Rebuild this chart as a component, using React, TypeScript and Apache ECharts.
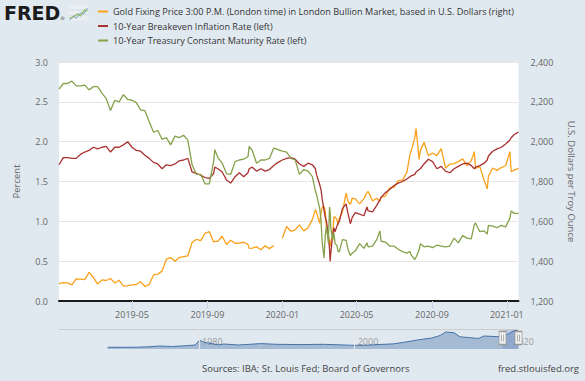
import React, { useEffect, useRef } from "react";
import * as echarts from "echarts";

// ---------- data ----------
const dates: string[] = [
  "2019-01-02","2019-01-09","2019-01-16","2019-01-23","2019-01-30","2019-02-06","2019-02-13","2019-02-20","2019-02-27",
  "2019-03-06","2019-03-13","2019-03-20","2019-03-27","2019-04-03","2019-04-10","2019-04-17","2019-04-24","2019-05-01",
  "2019-05-08","2019-05-15","2019-05-22","2019-05-29","2019-06-05","2019-06-12","2019-06-19","2019-06-26","2019-07-03",
  "2019-07-10","2019-07-17","2019-07-24","2019-07-31","2019-08-07","2019-08-14","2019-08-21","2019-08-28","2019-09-04",
  "2019-09-11","2019-09-13","2019-09-18","2019-09-25","2019-10-02","2019-10-09","2019-10-16","2019-10-23","2019-10-30",
  "2019-11-06","2019-11-08","2019-11-13","2019-11-20","2019-11-27","2019-12-04","2019-12-11","2019-12-18","2019-12-25",
  "2020-01-01","2020-01-08","2020-01-15","2020-01-22","2020-01-29","2020-02-05","2020-02-12","2020-02-19","2020-02-24",
  "2020-02-26","2020-03-02","2020-03-04","2020-03-06","2020-03-09","2020-03-11","2020-03-13","2020-03-16","2020-03-18",
  "2020-03-19","2020-03-20","2020-03-23","2020-03-25","2020-03-27","2020-03-30","2020-04-01","2020-04-03","2020-04-08",
  "2020-04-14","2020-04-17","2020-04-21","2020-04-24","2020-04-29","2020-05-06","2020-05-13","2020-05-18","2020-05-20",
  "2020-05-27","2020-06-03","2020-06-08","2020-06-10","2020-06-17","2020-06-24","2020-07-01","2020-07-08","2020-07-15",
  "2020-07-22","2020-07-27","2020-07-29","2020-08-04","2020-08-06","2020-08-11","2020-08-13","2020-08-19","2020-08-26",
  "2020-09-02","2020-09-09","2020-09-16","2020-09-23","2020-09-30","2020-10-07","2020-10-14","2020-10-21","2020-10-28",
  "2020-11-04","2020-11-09","2020-11-11","2020-11-18","2020-11-25","2020-11-30","2020-12-02","2020-12-09","2020-12-16",
  "2020-12-23","2020-12-30","2021-01-06","2021-01-08","2021-01-13","2021-01-20",
];

const goldPrice: (number | null)[] = [
  1287, 1292, 1291, 1281, 1311, 1310, 1307, 1344, 1319,
  1285, 1306, 1303, 1313, 1290, 1304, 1275, 1277, 1281,
  1283, 1297, 1273, 1282, 1331, 1335, 1350, 1410, 1418,
  1400, 1418, 1423, 1427, 1494, 1510, 1503, 1540, 1549,
  1496, 1499, 1500, 1525, 1484, 1505, 1490, 1491, 1495,
  1484, 1464, 1465, 1472, 1457, 1477, 1463, 1478, null,
  1515, 1574, 1550, 1557, 1582, 1552, 1568, 1610, 1659,
  1643, 1590, 1640, 1672, 1675, 1652, 1563, 1530, 1487,
  1474, 1500, 1525, 1620, 1623, 1607, 1582, 1617, 1647,
  1742, 1700, 1686, 1716, 1713, 1688, 1714, 1745, 1750,
  1703, 1716, 1700, 1721, 1727, 1768, 1770, 1804, 1807,
  1846, 1934, 1954, 2019, 2067, 1911, 1955, 1997, 1930,
  1943, 1930, 1965, 1868, 1887, 1890, 1900, 1914, 1880,
  1905, 1950, 1866, 1874, 1807, 1763, 1826, 1868, 1856,
  1870, 1879, 1950, 1850, 1857, 1866,
];

const breakevenRate: number[] = [
  1.71, 1.80, 1.80, 1.79, 1.79, 1.84, 1.87, 1.89, 1.93,
  1.91, 1.93, 1.94, 1.87, 1.93, 1.93, 1.96, 2.00, 1.93,
  1.89, 1.88, 1.83, 1.79, 1.74, 1.72, 1.66, 1.71, 1.70,
  1.72, 1.76, 1.77, 1.79, 1.62, 1.60, 1.58, 1.55, 1.54,
  1.60, 1.68, 1.66, 1.62, 1.52, 1.48, 1.56, 1.61, 1.56,
  1.61, 1.66, 1.68, 1.63, 1.66, 1.63, 1.65, 1.70, 1.74,
  1.77, 1.79, 1.80, 1.78, 1.72, 1.69, 1.73, 1.71, 1.66,
  1.58, 1.46, 1.40, 1.28, 1.14, 1.05, 1.00, 0.83, 0.65,
  0.50, 0.60, 0.82, 0.92, 0.87, 0.94, 0.98, 1.00, 1.16,
  1.22, 1.10, 0.97, 1.05, 1.11, 1.09, 1.07, 1.18, 1.13,
  1.12, 1.20, 1.27, 1.30, 1.36, 1.40, 1.45, 1.48, 1.50,
  1.53, 1.56, 1.57, 1.59, 1.62, 1.65, 1.66, 1.72, 1.78,
  1.75, 1.66, 1.69, 1.63, 1.61, 1.66, 1.69, 1.72, 1.73,
  1.70, 1.66, 1.68, 1.70, 1.73, 1.77, 1.82, 1.88, 1.91,
  1.93, 1.97, 2.02, 2.05, 2.09, 2.12,
];

const treasuryRate: number[] = [
  2.66, 2.73, 2.73, 2.76, 2.70, 2.70, 2.71, 2.65, 2.69,
  2.69, 2.61, 2.54, 2.39, 2.52, 2.50, 2.59, 2.53, 2.52,
  2.49, 2.40, 2.39, 2.25, 2.12, 2.14, 2.03, 2.05, 1.96,
  2.07, 2.05, 2.08, 2.02, 1.71, 1.59, 1.59, 1.47, 1.47,
  1.75, 1.90, 1.80, 1.73, 1.60, 1.59, 1.75, 1.77, 1.78,
  1.81, 1.94, 1.89, 1.73, 1.77, 1.77, 1.79, 1.92, 1.90,
  1.88, 1.87, 1.79, 1.77, 1.59, 1.65, 1.63, 1.56, 1.38,
  1.33, 1.16, 1.02, 0.74, 0.54, 0.82, 0.94, 0.73, 1.18,
  1.12, 0.92, 0.76, 0.86, 0.72, 0.70, 0.62, 0.62, 0.77,
  0.76, 0.65, 0.57, 0.60, 0.63, 0.72, 0.66, 0.73, 0.68,
  0.69, 0.77, 0.88, 0.75, 0.74, 0.69, 0.69, 0.65, 0.62,
  0.60, 0.62, 0.58, 0.52, 0.55, 0.64, 0.72, 0.68, 0.69,
  0.67, 0.70, 0.69, 0.68, 0.69, 0.79, 0.73, 0.82, 0.79,
  0.78, 0.96, 0.98, 0.87, 0.88, 0.84, 0.95, 0.94, 0.92,
  0.95, 0.93, 1.04, 1.13, 1.10, 1.10,
];

const seriesNames = [
  "Gold Fixing Price 3:00 P.M. (London time) in London Bullion Market, based in U.S. Dollars (right)",
  "10-Year Breakeven Inflation Rate (left)",
  "10-Year Treasury Constant Maturity Rate (left)",
];

const xRange = ["2019-01-02", "2021-01-20"];
const xTickDates = ["2019-05-01", "2019-09-01", "2020-01-01", "2020-05-01", "2020-09-01", "2021-01-01"];

// navigator (full history of the gold series, decimal years)
const navYears: number[] = [
  1968.25, 1970, 1972, 1973.5, 1974.9, 1976.6, 1978, 1979.5, 1980.05, 1980.7,
  1982.5, 1983.2, 1985.1, 1987.9, 1990, 1993, 1996, 1999.6, 2001.3, 2003,
  2005, 2006.4, 2008.2, 2009.9, 2011.0, 2011.7, 2012.8, 2013.5, 2015.9, 2016.6,
  2018.7, 2019.6, 2020.6, 2021.05,
];
const navGold: number[] = [
  39, 36, 48, 95, 180, 130, 200, 300, 850, 600,
  320, 410, 300, 460, 380, 350, 380, 270, 260, 350,
  430, 620, 900, 1100, 1400, 1800, 1700, 1250, 1050, 1330,
  1250, 1500, 2000, 1850,
];
const navRange = [1962, 2021.05];
const navSelection = [2019.0, 2021.05];
const navLabelYears = [1980, 2000, 2020];

const leftAxis = { min: 0, max: 3, interval: 0.5 };
const rightAxis = { min: 1200, max: 2400, interval: 200 };

// ---------- chart ----------
const FONT = '"Open Sans", "DejaVu Sans", sans-serif';
const COLORS = ["#f9a11b", "#a8322f", "#85a24a"];
const ts = (s: string) => new Date(s + "T00:00:00").getTime();

export default function App() {
  const ref = useRef<HTMLDivElement>(null);

  useEffect(() => {
    document.body.style.margin = "0";
    document.body.style.background = "#e1e9f0";
    const chart = echarts.init(ref.current!, undefined, { renderer: "svg" });

    const mk = (vals: (number | null)[]) => dates.map((d, i) => [ts(d), vals[i]]);
    const tickTs = xTickDates.map(ts);

    const option: any = {
      animation: false,
      backgroundColor: "#e1e9f0",
      textStyle: { fontFamily: FONT },
      color: COLORS,
      legend: {
        orient: "vertical",
        left: 98,
        top: 6,
        padding: 0,
        itemWidth: 10,
        itemHeight: 2,
        itemGap: 3.5,
        icon: "rect",
        selectedMode: false,
        textStyle: { fontSize: 9.1, color: "#333", fontFamily: FONT, lineHeight: 11 },
        data: seriesNames,
      },
      grid: [
        { left: 59, right: 66.5, top: 62, height: 239, show: true, backgroundColor: "#ffffff", borderWidth: 0 },
        { left: 59, right: 66.5, top: 329, height: 20, show: false },
      ],
      xAxis: [
        {
          type: "value",
          gridIndex: 0,
          min: ts(xRange[0]),
          max: ts(xRange[1]),
          axisLine: { show: true, onZero: false, lineStyle: { color: "#1a1a1a", width: 2 } },
          axisTick: { show: true, customValues: tickTs, length: 8, lineStyle: { color: "#ccd6eb" } },
          splitLine: { show: false },
          axisLabel: {
            customValues: tickTs,
            color: "#666",
            fontSize: 9,
            fontFamily: FONT,
            margin: 9,
            formatter: (v: number) => {
              const d = new Date(v);
              return d.getFullYear() + "-" + String(d.getMonth() + 1).padStart(2, "0");
            },
          },
        },
        {
          type: "value",
          gridIndex: 1,
          min: navRange[0],
          max: navRange[1],
          axisLine: { show: false },
          axisTick: { show: false },
          splitLine: { show: false },
          axisLabel: {
            inside: true,
            customValues: navLabelYears,
            color: "#999",
            fontSize: 9,
            fontFamily: FONT,
            margin: 3,
            align: "left",
            padding: [0, 0, 0, 3],
            formatter: (v: number) => String(v),
          },
        },
      ],
      yAxis: [
        {
          type: "value",
          gridIndex: 0,
          position: "left",
          min: leftAxis.min,
          max: leftAxis.max,
          interval: leftAxis.interval,
          axisLine: { show: false },
          axisTick: { show: false },
          splitLine: { lineStyle: { color: "#e6e6e6" } },
          axisLabel: { color: "#666", fontSize: 9, fontFamily: FONT, margin: 11, formatter: (v: number) => v.toFixed(1) },
          name: "Percent",
          nameLocation: "middle",
          nameGap: 38,
          nameRotate: 90,
          nameTextStyle: { color: "#666", fontSize: 9.5, fontFamily: FONT },
        },
        {
          type: "value",
          gridIndex: 0,
          position: "right",
          min: rightAxis.min,
          max: rightAxis.max,
          interval: rightAxis.interval,
          axisLine: { show: false },
          axisTick: { show: false },
          splitLine: { show: false },
          axisLabel: {
            color: "#666",
            fontSize: 9,
            fontFamily: FONT,
            margin: 12,
            formatter: (v: number) => v.toLocaleString("en-US"),
          },
          name: "U.S. Dollars per Troy Ounce",
          nameLocation: "middle",
          nameGap: 48,
          nameRotate: -90,
          nameTextStyle: { color: "#666", fontSize: 9.5, fontFamily: FONT },
        },
        {
          type: "value",
          gridIndex: 1,
          min: -160,
          max: 2140,
          show: false,
          splitLine: { show: false },
        },
      ],
      series: [
        {
          name: seriesNames[0],
          type: "line",
          xAxisIndex: 0,
          yAxisIndex: 1,
          data: mk(goldPrice),
          showSymbol: false,
          connectNulls: false,
          lineStyle: { width: 1.3, color: COLORS[0] },
          itemStyle: { color: COLORS[0] },
        },
        {
          name: seriesNames[1],
          type: "line",
          xAxisIndex: 0,
          yAxisIndex: 0,
          data: mk(breakevenRate),
          showSymbol: false,
          lineStyle: { width: 1.3, color: COLORS[1] },
          itemStyle: { color: COLORS[1] },
        },
        {
          name: seriesNames[2],
          type: "line",
          xAxisIndex: 0,
          yAxisIndex: 0,
          data: mk(treasuryRate),
          showSymbol: false,
          lineStyle: { width: 1.3, color: COLORS[2] },
          itemStyle: { color: COLORS[2] },
        },
        {
          name: "navigator",
          type: "line",
          xAxisIndex: 1,
          yAxisIndex: 2,
          data: navYears.map((y, i) => [y, navGold[i]]),
          showSymbol: false,
          silent: true,
          lineStyle: { width: 1, color: "#4572a7" },
          areaStyle: { color: "rgba(69,114,167,0.55)", origin: "start" },
          markLine: {
            silent: true,
            symbol: "none",
            label: { show: false },
            data: [
              { yAxis: 2140, lineStyle: { color: "#cccccc", width: 1, type: "solid" } },
              ...navLabelYears.slice(0, 2).map((y) => ({ xAxis: y, lineStyle: { color: "#e6e6e6", width: 1, type: "solid" } })),
            ],
          },
          markArea: {
            silent: true,
            itemStyle: { color: "rgba(102,133,194,0.3)" },
            data: [[{ xAxis: navSelection[0] }, { xAxis: navSelection[1] }]],
          },
          markPoint: {
            silent: true,
            label: { show: false },
            data: [
              ...navSelection.map((x) => ({
                coord: [x, 1105],
                symbol: "rect",
                symbolSize: [7, 13],
                itemStyle: { color: "#f2f2f2", borderColor: "#999", borderWidth: 1 },
              })),
              ...navSelection.map((x) => ({
                coord: [x, 1105],
                symbol: "path://M0,0h1v8h-1z M3,0h1v8h-1z",
                symbolKeepAspect: false,
                symbolSize: [3, 7],
                itemStyle: { color: "#999" },
              })),
            ],
          },
        },
      ],
      graphic: [
        {
          type: "text",
          left: 4,
          top: 3,
          style: { text: "FRED", font: '900 19px "DejaVu Sans"', fill: "#1b1b1b" },
        },
        {
          type: "text",
          left: 60,
          top: 15,
          style: { text: "®", font: '5px "DejaVu Sans"', fill: "#555" },
        },
        {
          type: "group",
          left: 66,
          top: 5,
          children: [
            { type: "rect", shape: { x: 0, y: 0, width: 20, height: 16 }, style: { fill: "#e9eef3" } },
            { type: "line", shape: { x1: 0, y1: 5, x2: 20, y2: 5 }, style: { stroke: "#cfd6dd", lineWidth: 0.6 } },
            { type: "line", shape: { x1: 0, y1: 10, x2: 20, y2: 10 }, style: { stroke: "#cfd6dd", lineWidth: 0.6 } },
            { type: "polyline", shape: { points: [[1, 15], [5, 11], [8, 13], [12, 8], [15, 9], [19, 3]] }, style: { stroke: "#8fb3d8", lineWidth: 1.2, fill: "none" } },
            { type: "polyline", shape: { points: [[1, 13], [5, 12], [9, 9], [12, 11], [16, 5], [19, 6]] }, style: { stroke: "#8db55a", lineWidth: 1.2, fill: "none" } },
          ],
        },
        {
          type: "text",
          left: 202,
          top: 363,
          style: { text: "Sources: IBA; St. Louis Fed; Board of Governors", font: '9.5px "Open Sans"', fill: "#444" },
        },
        {
          type: "text",
          right: 6,
          top: 363,
          style: { text: "fred.stlouisfed.org", font: '9.5px "Open Sans"', fill: "#444" },
        },
      ],
    };

    chart.setOption(option);
    return () => chart.dispose();
  }, []);

  return (
    <div
      ref={ref}
      style={{ position: "fixed", left: 0, top: 0, width: 585, height: 381, background: "#e1e9f0" }}
    />
  );
}
